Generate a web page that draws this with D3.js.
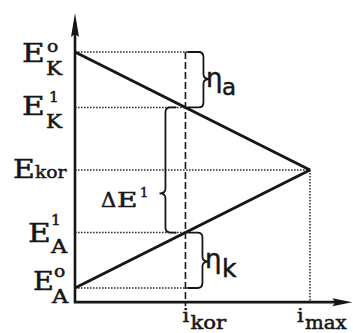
<!DOCTYPE html>
<html><head><meta charset="utf-8">
<script src="https://cdn.jsdelivr.net/npm/d3@7"></script>
<style>html,body{margin:0;padding:0;background:#fff}svg{display:block}</style>
</head><body>
<svg id="c" width="353" height="333"></svg>
<script>
// ---- data ----
const potentialNames = ["EK0", "EK1", "Ekor", "EA1", "EA0"];
const potentialValues = [1.0, 0.53, 0.0, -0.53, -1.0];
const potentialSup = ["o", "1", "", "1", "o"];
const potentialSub = ["K", "K", "kor", "A", "A"];
const currentNames = ["kor", "max"];
const currentValues = [0.47, 1.0];
const cathodeLine = [{i: 0, E: 1.0}, {i: 1.0, E: 0.0}];
const anodeLine = [{i: 0, E: -1.0}, {i: 1.0, E: 0.0}];
const axisMax = {i: 1.18, Etop: 1.33, Ebottom: -1.12};

// ---- drawing ----
const svg = d3.select("#c");
const ink = "#161616";
const x = d3.scaleLinear().domain([0, 1]).range([75, 310]);
const y = d3.scaleLinear().domain([-1, 1]).range([288, 52]);
const P = {}; potentialNames.forEach((n, k) => P[n] = potentialValues[k]);
const iKor = currentValues[0], iMax = currentValues[1];

const serif = "'DejaVu Serif', serif", sans = "'DejaVu Sans', sans-serif";
function txt(s, px, py, size, sx, fam) {
  return svg.append("text").attr("transform", `translate(${px},${py}) scale(${sx},1)`)
    .attr("font-family", fam || serif).attr("font-size", size).attr("fill", ink)
    .attr("stroke", ink).attr("stroke-width", 0.5).text(s);
}

// dotted horizontal guides
const guideEnd = {EK0: x(iKor) + 12, EK1: x(iKor), Ekor: x(iMax), EA1: x(iKor), EA0: x(iKor) + 10};
potentialNames.forEach(n => {
  svg.append("line").attr("x1", x(0)).attr("x2", guideEnd[n]).attr("y1", y(P[n])).attr("y2", y(P[n]))
    .attr("stroke", "#333").attr("stroke-width", 1.6).attr("stroke-dasharray", "1.6,1.4");
});
// i_max dotted vertical
svg.append("line").attr("x1", x(iMax)).attr("x2", x(iMax)).attr("y1", y(0)).attr("y2", y(axisMax.Ebottom))
  .attr("stroke", "#333").attr("stroke-width", 1.6).attr("stroke-dasharray", "1.6,1.4");
// i_kor dashed vertical
svg.append("line").attr("x1", x(iKor)).attr("x2", x(iKor)).attr("y1", y(P.EK0)).attr("y2", y(axisMax.Ebottom) + 4)
  .attr("stroke", ink).attr("stroke-width", 1.6).attr("stroke-dasharray", "7,3");

// polarization lines
const line = d3.line().x(d => x(d.i)).y(d => y(d.E));
[cathodeLine, anodeLine].forEach(d => svg.append("path").attr("d", line(d)).attr("fill", "none")
  .attr("stroke", ink).attr("stroke-width", 3));

// axes
const x0 = x(0), yb = y(axisMax.Ebottom), yt = y(axisMax.Etop), xr = x(axisMax.i);
svg.append("path").attr("d", `M${x0},${yt + 10}V${yb}H${xr - 10}`).attr("fill", "none")
  .attr("stroke", ink).attr("stroke-width", 2.6);
svg.append("path").attr("d", `M${x0},${yt}L${x0 + 4},${yt + 24}L${x0},${yt + 21}L${x0 - 4},${yt + 24}Z`).attr("fill", ink);
svg.append("path").attr("d", `M${xr},${yb}L${xr - 20},${yb - 4}L${xr - 17},${yb}L${xr - 20},${yb + 4}Z`).attr("fill", ink);

// braces
function brace(xv, y1, y2, yTip, dir, endX, tipW) {
  const r = 5;
  const p = `M${endX},${y1} L${xv - dir * r},${y1} Q${xv},${y1} ${xv},${y1 + r}
    L${xv},${yTip - r} Q${xv},${yTip} ${xv + dir * tipW},${yTip} Q${xv},${yTip} ${xv},${yTip + r}
    L${xv},${y2 - r} Q${xv},${y2} ${xv - dir * r},${y2} L${endX},${y2}`;
  svg.append("path").attr("d", p).attr("fill", "none").attr("stroke", ink).attr("stroke-width", 1.8);
}
brace(x(iKor) + 18, y(P.EK0), y(P.EK1), y(P.EK0) + 27, 1, x(iKor) + 2, 6);
brace(x(iKor) - 20, y(P.EK1), y(P.EA1), y(P.EK1) + 86, -1, x(iKor) - 9, 6);
brace(x(iKor) + 17, y(P.EA1), y(P.EA0), y(P.EA1) + 29, 1, x(iKor) + 2, 6);

// potential labels
const labLayout = {
  EK0: {ex: 22, ey: 10, es: 1.2, sx: 47, sy: 0, bx: 46, by: 23},
  EK1: {ex: 22, ey: 8, es: 1.2, sx: 49, sy: -5, bx: 46, by: 21},
  Ekor: {ex: 13, ey: 8, es: 1.15, sx: 0, sy: 0, bx: 35, by: 8},
  EA1: {ex: 28, ey: 9, es: 1.2, sx: 51, sy: -8, bx: 51, by: 20},
  EA0: {ex: 33, ey: 2, es: 1.1, sx: 54, sy: -11, bx: 52, by: 15}
};
potentialNames.forEach((n, k) => {
  const L = labLayout[n], yl = y(potentialValues[k]);
  txt("E", L.ex, yl + L.ey, 26, L.es);
  if (potentialSup[k]) txt(potentialSup[k], L.sx, yl + L.sy, potentialSup[k] === "o" ? 17 : 14, 1.1);
  if (potentialSub[k].length === 1) txt(potentialSub[k], L.bx, yl + L.by, 18, potentialSub[k] === "K" ? 1.2 : 1.25);
  else txt(potentialSub[k], L.bx, yl + L.by, 17, 1.1);
});

// current labels
currentValues.forEach((v, k) => {
  const xi = x(v) - (k === 0 ? 3 : 13);
  txt("i", xi, 322, 19, 1.1);
  txt(currentNames[k], xi + 8, 329, 18, k === 0 ? 1.18 : 1.1);
});

// ΔE¹
txt("Δ", 101, y(P.EK1) + 100, 20, 1.05);
txt("E", 117, y(P.EK1) + 100, 20, 1.4);
txt("1", 140, y(P.EK1) + 90, 13, 1.0);

// η labels
txt("η", 206, y(P.EK0) + 35, 26, 1.0, sans);
txt("a", 222, y(P.EK0) + 43, 23, 1.0, sans);
txt("η", 205, y(P.EA1) + 35, 26, 1.0, sans);
txt("k", 222, y(P.EA1) + 44, 25, 1.0, sans);
</script>
</body></html>
